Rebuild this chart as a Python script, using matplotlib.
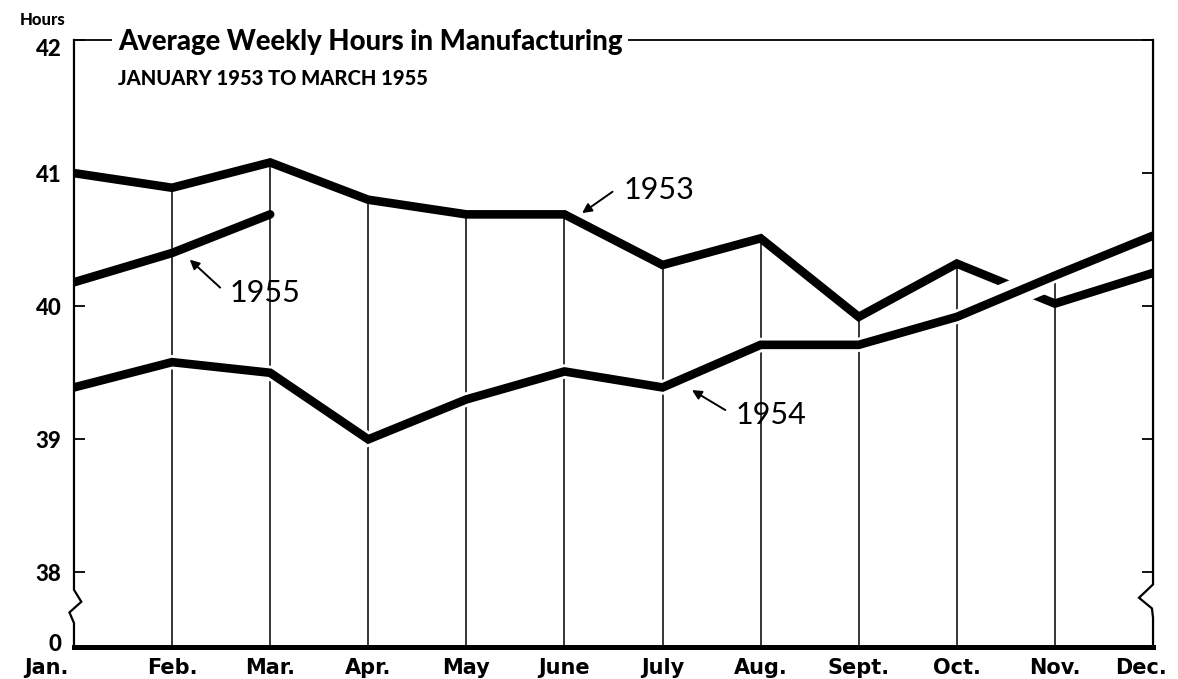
import matplotlib
matplotlib.use("Agg")
import matplotlib.pyplot as plt
import matplotlib.transforms as mtransforms
import matplotlib.patheffects as pe
import numpy as np

# ---------------- data ----------------
months = ["Jan.", "Feb.", "Mar.", "Apr.", "May", "June", "July",
          "Aug.", "Sept.", "Oct.", "Nov.", "Dec."]
hours_1953 = [41.00, 40.89, 41.08, 40.80, 40.69, 40.69, 40.31,
              40.51, 39.92, 40.32, 40.02, 40.25]
hours_1954 = [39.39, 39.58, 39.50, 39.00, 39.30, 39.51, 39.39,
              39.71, 39.71, 39.92, 40.23, 40.53]
hours_1955 = [40.18, 40.40, 40.69]
ytick_values = [38, 39, 40, 41, 42]
ytick_labels = ["38", "39", "40", "41", "42"]
axis_floor = 37.44          # broken-axis bottom, labelled "0"
floor_label = "0"

title = "Average Weekly Hours in Manufacturing"
subtitle = "JANUARY 1953 TO MARCH 1955"
ylabel = "Hours"

# ---------------- fonts ----------------
FONT = ["Lato", "DejaVu Sans"]
WIDE = ["DejaVu Sans"]

fig = plt.figure(figsize=(11.78, 6.79), dpi=100)
ax = fig.add_axes([0.0628, 0.0471, 0.916, 0.894])

x = np.arange(len(months))
x55 = np.arange(len(hours_1955))
ax.set_xlim(0, len(months) - 1)
ax.set_ylim(axis_floor, 42)

LW = 6.2
common = dict(color="black", lw=LW, solid_capstyle="round",
              solid_joinstyle="miter")

# 1953 and 1955 curves
ax.plot(x, hours_1953, zorder=3, **common)
ax.plot(x55, hours_1955, zorder=3, **common)

# wide white band under the 1954 curve: breaks the 1953 curve where they cross
ax.plot(x, hours_1954, color="white", lw=LW + 13, solid_capstyle="round",
        solid_joinstyle="miter", zorder=3.3)

# vertical month rules up to the highest curve
tops = np.maximum(np.array(hours_1953), np.array(hours_1954))
tops[:len(hours_1955)] = np.maximum(tops[:len(hours_1955)], hours_1955)
ax.vlines(x[1:-1], axis_floor, tops[1:-1], color="black", lw=1.1, zorder=3.5)

# 1954 curve on top, with a thin white halo
ax.plot(x, hours_1954, zorder=4,
        path_effects=[pe.Stroke(linewidth=LW + 4, foreground="white"), pe.Normal()],
        **common)

# ---------------- spines ----------------
for s in ["left", "right"]:
    ax.spines[s].set_visible(False)
ax.spines["bottom"].set_linewidth(3.6)
ax.spines["top"].set_linewidth(1.3)
ax.spines["bottom"].set_zorder(6)
ax.spines["top"].set_zorder(2)

blend = mtransforms.blended_transform_factory(ax.transAxes, ax.transData)
ax.plot([0, 0, 0.0068, -0.0042, 0, 0],
        [42, 37.87, 37.78, 37.70, 37.62, axis_floor],
        transform=blend, color="black", lw=1.6, clip_on=False, zorder=6,
        solid_joinstyle="miter")
ax.plot([1, 1, 1 - 0.013, 1 - 0.001, 1, 1],
        [42, 37.91, 37.81, 37.73, 37.66, axis_floor],
        transform=blend, color="black", lw=1.6, clip_on=False, zorder=6,
        solid_joinstyle="miter")

# ---------------- ticks ----------------
ax.set_yticks(ytick_values + [axis_floor])
ax.set_yticklabels(ytick_labels + [floor_label])
ax.tick_params(axis="y", direction="in", length=8, width=1.3,
               left=True, right=True, labelleft=True, labelright=False, pad=9)
for lab in ax.get_yticklabels():
    lab.set_fontfamily(FONT)
    lab.set_fontweight("black")
    lab.set_fontsize(16)

ax.set_xticks(x)
ax.set_xticklabels(months)
ax.tick_params(axis="x", length=0, pad=8)
for lab in ax.get_xticklabels():
    lab.set_fontfamily(WIDE)
    lab.set_fontweight("bold")
    lab.set_fontsize(15)


def shift(label, dx_px, dy_px):
    label.set_transform(label.get_transform() +
                        mtransforms.ScaledTranslation(dx_px / 100, dy_px / 100,
                                                      fig.dpi_scale_trans))


ylabs = ax.get_yticklabels()
shift(ylabs[ytick_labels.index("42")], 0, -8)
shift(ylabs[-1], 0, 5)
xlabs = ax.get_xticklabels()
shift(xlabs[0], -28, 0)
shift(xlabs[-1], -12, 0)

# ---------------- titles ----------------
ax.annotate(title, xy=(0, 1), xycoords="axes fraction",
            xytext=(44 * 0.72, -10 * 0.72), textcoords="offset points",
            ha="left", va="baseline", fontsize=19.8, fontweight="black",
            family=FONT, annotation_clip=False, zorder=5,
            bbox=dict(boxstyle="square,pad=0.2", fc="white", ec="none"))
ax.annotate(subtitle, xy=(0, 1), xycoords="axes fraction",
            xytext=(44 * 0.72, -45 * 0.72), textcoords="offset points",
            ha="left", va="baseline", fontsize=14.5, fontweight="black",
            family=FONT, annotation_clip=False)
fig.text(20 / 1178, 1 - 25 / 679, ylabel, ha="left", va="baseline",
         fontsize=12, fontweight="black", family=FONT)

# ---------------- series labels ----------------
arrow = dict(arrowstyle="-|>", color="black", lw=1.4, mutation_scale=14,
             shrinkA=0, shrinkB=0)
label_kw = dict(ha="left", va="center", fontsize=22, family=FONT, zorder=7)

ax.annotate("", xy=(5.18, 40.70), xytext=(5.49, 40.86), arrowprops=arrow, zorder=7)
ax.text(5.60, 40.87, "1953", **label_kw)

ax.annotate("", xy=(6.30, 39.37), xytext=(6.64, 39.22), arrowprops=arrow, zorder=7)
ax.text(6.74, 39.18, "1954", **label_kw)

ax.annotate("", xy=(1.18, 40.35), xytext=(1.49, 40.14), arrowprops=arrow, zorder=7)
ax.text(1.59, 40.10, "1955", **label_kw)

fig.savefig("out.png", dpi=100)
